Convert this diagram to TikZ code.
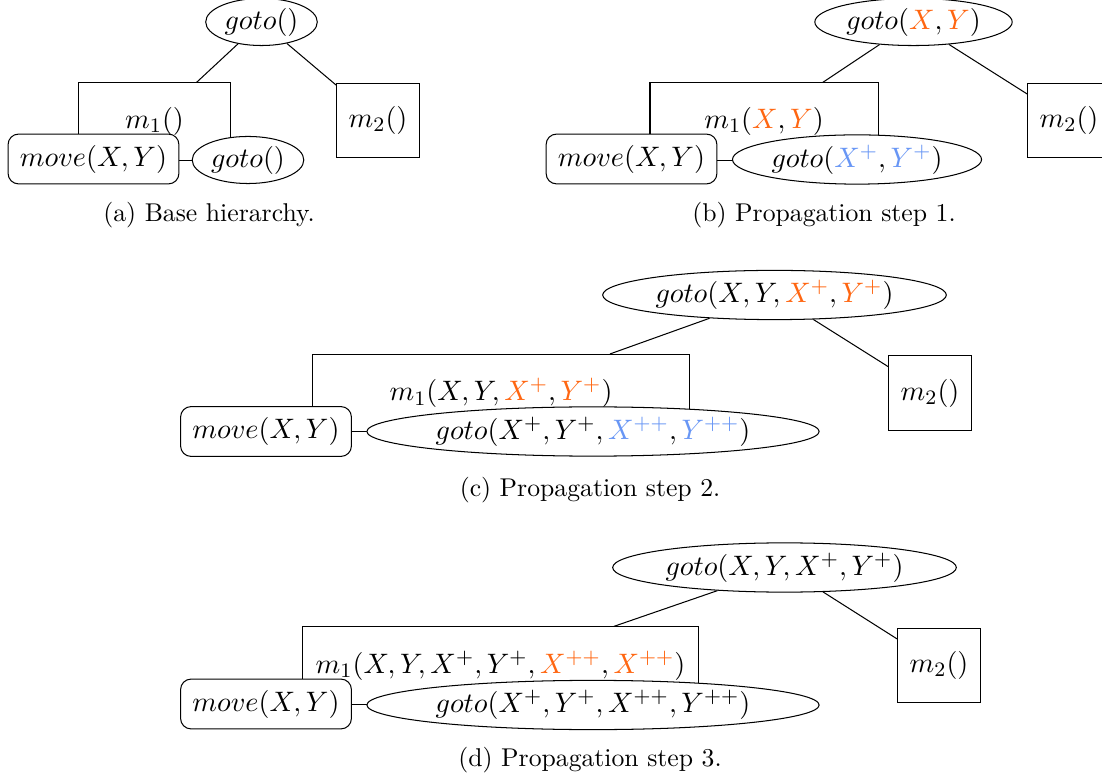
\documentclass[tikz,border=0pt]{standalone}
\usepackage{amsmath,amssymb}
\usepackage{xcolor}
\usetikzlibrary{shapes.geometric}
\definecolor{propor}{RGB}{255,102,17}
\definecolor{propbl}{RGB}{104,150,245}
\newcommand{\ora}[1]{\textcolor{propor}{#1}}
\newcommand{\blu}[1]{\textcolor{propbl}{#1}}

\begin{document}
\begin{tikzpicture}[x=0.389pt, y=-0.389pt,
  every node/.style={font=\fontsize{10.95}{13.6}\selectfont},
  goal/.style={draw, ellipse, inner sep=1pt, fill=white},
  method/.style={draw, rectangle, minimum height=30pt},
  action/.style={draw, rounded corners=4pt, fill=white, inner xsep=4.6pt, inner ysep=4.2pt},
  leaf/.style={draw, rectangle, minimum width=32pt, minimum height=29pt},
  subcap/.style={font=\fontsize{10}{12}\selectfont}]
\useasboundingbox (0,0) rectangle (1102,779);
% (a) base hierarchy
\node[goal] (goA) at (261.5,22) {$goto()$};
\node[method, minimum width=58.8pt] (m1A) at (154.5,121.5) {$m_1()$};
\node[leaf] (m2A) at (378,120.5) {$m_2()$};
\node[action] (mvA) at (93.5,159) {$move(X,Y)$};
\node[goal] (gsA) at (248,160) {$goto()$};
\draw (goA) -- (m1A);
\draw (goA) -- (m2A);
\node[subcap] (capA) at (209,215) {(a) Base hierarchy.};
% (b) step 1
\node[goal] (goB) at (913.5,22) {$goto(\ora{X},\ora{Y})$};
\node[method, minimum width=88.7pt] (m1B) at (764,121.5) {$m_1(\ora{X},\ora{Y})$};
\node[leaf] (m2B) at (1069,120.5) {$m_2()$};
\node[action] (mvB) at (631.5,159) {$move(X,Y)$};
\node[goal] (gsB) at (857,159.5) {$goto(\blu{X^+},\blu{Y^+})$};
\draw (goB) -- (m1B);
\draw (goB) -- (m2B);
\node[subcap] (capB) at (824,215) {(b) Propagation step 1.};
% (c) step 2
\node[goal] (goC) at (774.5,295) {$goto(X,Y,\ora{X^+},\ora{Y^+})$};
\node[method, minimum width=147pt] (m1C) at (501,393) {$m_1(X,Y,\ora{X^+},\ora{Y^+})$};
\node[leaf] (m2C) at (930,393) {$m_2()$};
\node[action] (mvC) at (266,431.5) {$move(X,Y)$};
\node[goal] (gsC) at (593,431.5) {$goto(X^+,Y^+,\blu{X^{++}},\blu{Y^{++}})$};
\draw (goC) -- (m1C);
\draw (goC) -- (m2C);
\node[subcap] (capC) at (590,490) {(c) Propagation step 2.};
% (d) step 3
\node[goal] (goD) at (784.5,567.5) {$goto(X,Y,X^+,Y^+)$};
\node[method, minimum width=154pt] (m1D) at (500.5,665.5) {$m_1(X,Y,X^+,Y^+,\ora{X^{++}},\ora{X^{++}})$};
\node[leaf] (m2D) at (939,665.5) {$m_2()$};
\node[action] (mvD) at (266,704) {$move(X,Y)$};
\node[goal] (gsD) at (593,705) {$goto(X^+,Y^+,X^{++},Y^{++})$};
\draw (goD) -- (m1D);
\draw (goD) -- (m2D);
\node[subcap] (capD) at (590,760) {(d) Propagation step 3.};
\end{tikzpicture}
\end{document}
